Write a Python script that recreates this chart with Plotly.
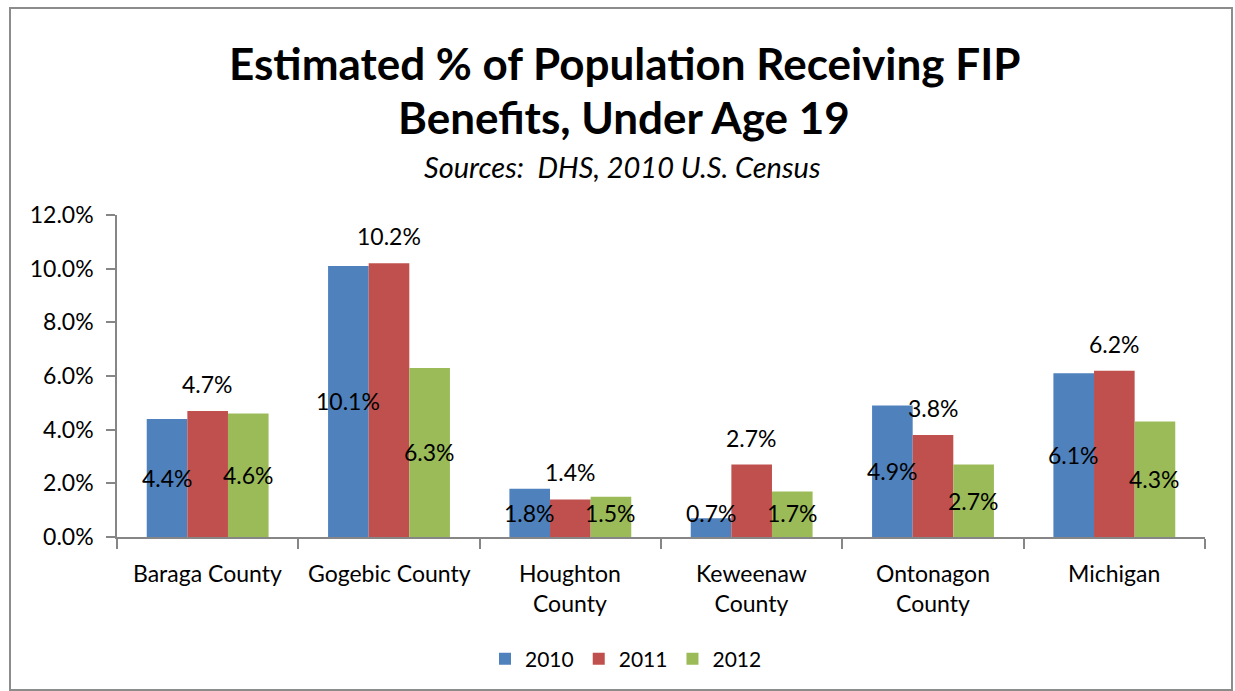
import numpy as np
import plotly.graph_objects as go

# Data
categories = ["Baraga County", "Gogebic County", "Houghton<br>County",
              "Keweenaw<br>County", "Ontonagon<br>County", "Michigan"]
years = ["2010", "2011", "2012"]
pct_2010 = [4.4, 10.1, 1.8, 0.7, 4.9, 6.1]
pct_2011 = [4.7, 10.2, 1.4, 2.7, 3.8, 6.2]
pct_2012 = [4.6, 6.3, 1.5, 1.7, 2.7, 4.3]
y_ticks = [0, 2, 4, 6, 8, 10, 12]

colors = ["#4F81BD", "#C0504D", "#9BBB59"]
FONT = "Lato"
series = [pct_2010, pct_2011, pct_2012]

# Plot-area geometry (pixels)
W, H = 1235, 691
ML, MR, MT, MB = 117, 30, 215, 154
PW, PH = W - ML - MR, H - MT - MB


def py(pix_y):
    """Page pixel row -> paper y coordinate."""
    return (H - MB - pix_y) / PH


def px(pix_x):
    """Page pixel column -> paper x coordinate."""
    return (pix_x - ML) / PW


idx = np.arange(len(categories))
bar_w = 0.224
offsets = [-bar_w, 0.0, bar_w]
# keep centred labels of very short bars from dipping below the axis
min_label_y = 0.9

fig = go.Figure()
for name, vals, col, off in zip(years, series, colors, offsets):
    fig.add_trace(go.Bar(
        x=idx + off, y=vals, width=bar_w, name=name,
        marker=dict(color=col, line=dict(width=0)),
    ))

label_font = dict(family=FONT, size=23, color="#000")

# Data labels: 2010 and 2012 centred in the bar, 2011 above the bar
annotations = []
for s, (vals, off) in enumerate(zip(series, offsets)):
    for i, v in enumerate(vals):
        if s == 1:
            annotations.append(dict(x=i + off, y=v, xref="x", yref="y",
                                    text=f"{v:.1f}%", showarrow=False,
                                    yanchor="bottom", yshift=11, font=label_font))
        else:
            annotations.append(dict(x=i + off, y=max(v / 2, min_label_y), xref="x", yref="y",
                                    text=f"{v:.1f}%", showarrow=False,
                                    yanchor="middle", font=label_font))

# Category labels under the axis
for i, c in enumerate(categories):
    annotations.append(dict(x=i, y=0, xref="x", yref="paper", text=c,
                            showarrow=False, yanchor="top", yshift=-20,
                            font=label_font))

# Title block
annotations += [
    dict(x=px(624), y=py(63), xref="paper", yref="paper",
         text="<b>Estimated % of Population Receiving FIP</b>", showarrow=False,
         yanchor="middle", font=dict(family=FONT, size=44, color="#000")),
    dict(x=px(624), y=py(117), xref="paper", yref="paper",
         text="<b>Benefits, Under Age 19</b>", showarrow=False,
         yanchor="middle", font=dict(family=FONT, size=44, color="#000")),
    dict(x=px(622), y=py(167), xref="paper", yref="paper",
         text="<i>Sources:  DHS, 2010 U.S. Census</i>", showarrow=False,
         yanchor="middle", font=dict(family=FONT, size=29, color="#000")),
]

fig.update_layout(
    width=W, height=H,
    margin=dict(l=ML, r=MR, t=MT, b=MB),
    paper_bgcolor="white", plot_bgcolor="white",
    barmode="overlay",
    showlegend=True,
    legend=dict(orientation="h", x=px(626), xanchor="center", y=py(659), yanchor="middle",
                font=dict(family=FONT, size=21, color="#000"), traceorder="normal"),
    xaxis=dict(range=[-0.5, 5.5], tickmode="array", tickvals=list(idx - 0.5) + [5.5],
               ticktext=[""] * 7, ticks="outside", ticklen=10, tickcolor="#868686",
               tickwidth=1.5, showline=True, linecolor="#868686", linewidth=1.5,
               showgrid=False, zeroline=False),
    yaxis=dict(range=[0, 12], tickmode="array", tickvals=y_ticks,
               ticktext=[f"{t:.1f}%" for t in y_ticks], ticks="outside", ticklen=9,
               tickcolor="#868686", tickwidth=1.5, showline=True, linecolor="#868686",
               linewidth=1.5, showgrid=False, zeroline=False, ticklabelstandoff=8,
               tickfont=dict(family=FONT, size=23, color="#000")),
    font=dict(family=FONT, color="#000"),
    annotations=annotations,
)

# Outer chart border
fig.add_shape(type="rect", xref="paper", yref="paper",
              x0=px(10), x1=px(1232), y0=py(690), y1=py(8),
              line=dict(color="#8c8c8c", width=2), fillcolor="rgba(0,0,0,0)", layer="below")

fig.write_html("out.html")
